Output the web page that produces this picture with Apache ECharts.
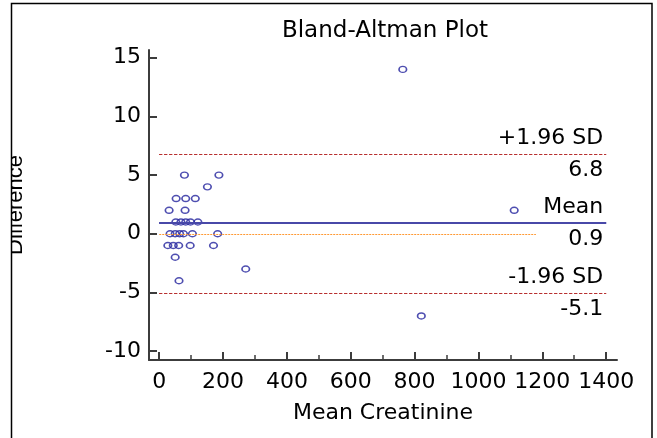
<!DOCTYPE html>
<html>
<head>
<meta charset="utf-8">
<script src="https://cdn.jsdelivr.net/npm/echarts@6/dist/echarts.min.js"></script>
<style>
html,body{margin:0;padding:0;background:#fff;}
#c{width:657px;height:438px;}
</style>
</head>
<body>
<div id="c"></div>
<script>
// ---- data ----
var meanCreatinine = [79,187,151,53,83,113,31,81,52,68,83,98,121,34,50,64,76,104,183,27,44,61,97,170,50,271,62,821,1112,763];
var difference     = [5,5,4,3,3,3,2,2,1,1,1,1,1,0,0,0,0,0,0,-1,-1,-1,-1,-1,-2,-3,-4,-7,2,14];
var limitNames  = ['+1.96 SD', 'Mean', '-1.96 SD'];
var limitValues = [6.8, 0.9, -5.1];
var limitRange  = [0, 1400];
var zeroLineRange = [0, 1180];
var xTickLabels = [0,200,400,600,800,1000,1200,1400];
var xMinorTicks = [100,300,500,700,900,1100,1300];
var yTickLabels = [-10,-5,0,5,10,15];

var points = meanCreatinine.map(function(x,i){ return [x, difference[i]]; });

var FONT = 'DejaVu Sans';
var axisColor = '#3c3c3c';
var limitStyles = [
  {color:'#b83030', width:1, type:[3,2]},
  {color:'#4848a8', width:2, type:'solid'},
  {color:'#b83030', width:1, type:[3,2]}
];

var markData = [];
limitValues.forEach(function(v,i){
  markData.push([
    {coord:[limitRange[0], v], lineStyle:limitStyles[i],
     label:{show:true, position:'insideEndTop', formatter:limitNames[i], distance:[3,5],
            color:'#000', fontFamily:FONT, fontSize:22}},
    {coord:[limitRange[1], v], lineStyle:limitStyles[i]}
  ]);
  markData.push([
    {coord:[limitRange[0], v], lineStyle:limitStyles[i],
     label:{show:true, position:'insideEndBottom', formatter:String(v), distance:[3,5],
            color:'#000', fontFamily:FONT, fontSize:22}},
    {coord:[limitRange[1], v], lineStyle:limitStyles[i]}
  ]);
});
var zeroStyle = {color:'#ff9933', width:1.2, type:[2,1]};
markData.push([
  {coord:[zeroLineRange[0], 0], lineStyle:zeroStyle, label:{show:false}},
  {coord:[zeroLineRange[1], 0], lineStyle:zeroStyle}
]);

function plain(v){ return String(v); }

var chart = echarts.init(document.getElementById('c'), null, {renderer:'canvas'});
chart.setOption({
  animation:false,
  backgroundColor:'#fff',
  title:{
    text:'Bland-Altman Plot', left:380, top:15, textAlign:'center',
    textStyle:{fontFamily:FONT, fontSize:23, fontWeight:'normal', color:'#000'}
  },
  grid:{left:149, right:40, top:50, bottom:78, containLabel:false, outerBoundsMode:'none'},
  xAxis:[{
    type:'value', min:-32, max:1434,
    name:'Mean Creatinine', nameLocation:'middle', nameGap:42,
    nameTextStyle:{fontFamily:FONT, fontSize:22, color:'#000'},
    axisLine:{show:true, onZero:false, lineStyle:{color:axisColor, width:2}},
    axisTick:{show:true, inside:true, length:8, customValues:xTickLabels, lineStyle:{color:axisColor, width:2}},
    axisLabel:{show:true, customValues:xTickLabels, formatter:plain, margin:11, fontFamily:FONT, fontSize:22, color:'#000'},
    splitLine:{show:false}
  },{
    type:'value', min:-32, max:1434, position:'bottom',
    axisLine:{show:false, onZero:false},
    axisTick:{show:true, inside:true, length:5, customValues:xMinorTicks, lineStyle:{color:axisColor, width:1.5}},
    axisLabel:{show:false},
    splitLine:{show:false}
  }],
  yAxis:{
    type:'value', min:-10.75, max:15.65,
    name:'Difference', nameLocation:'middle', nameGap:122,
    nameTextStyle:{fontFamily:'Liberation Sans', fontSize:22, color:'#000'},
    axisLine:{show:true, onZero:false, lineStyle:{color:axisColor, width:2}},
    axisTick:{show:true, inside:true, length:8, customValues:yTickLabels, lineStyle:{color:axisColor, width:2}},
    axisLabel:{show:true, customValues:yTickLabels, formatter:plain, margin:8, fontFamily:FONT, fontSize:22, color:'#000'},
    splitLine:{show:false}
  },
  series:[{
    type:'scatter',
    data:points,
    symbol:'circle',
    symbolSize:[7.5,6],
    itemStyle:{color:'rgba(0,0,0,0)', borderColor:'#22229c', borderWidth:1.5},
    emphasis:{disabled:true},
    markLine:{
      silent:true, symbol:['none','none'], animation:false,
      data:markData
    },
    z:3
  }],
  graphic:[
    {type:'rect', z:100, shape:{x:0, y:0, width:11, height:438}, style:{fill:'#fff'}},
    {type:'rect', z:101, shape:{x:11.5, y:3.5, width:640.5, height:450}, style:{fill:null, stroke:'#000', lineWidth:1.5}}
  ]
});
</script>
</body>
</html>
